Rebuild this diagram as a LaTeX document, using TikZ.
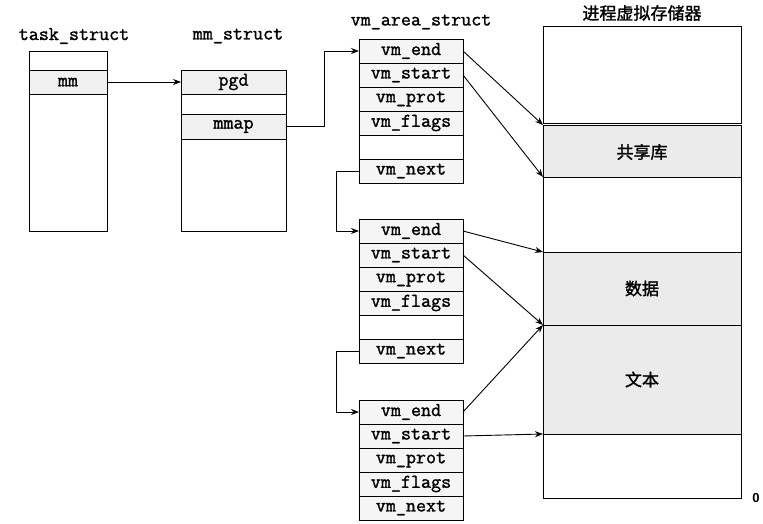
\documentclass[tikz,border=0pt]{standalone}
\usepackage{fontspec}
\setmonofont[FakeBold=1.4]{Latin Modern Mono}
\setsansfont{Liberation Sans}
\newfontfamily\cjk[FakeBold=1.5]{Noto Sans CJK SC}
\usetikzlibrary{arrows.meta}
\begin{document}
\begin{tikzpicture}[x=1pt,y=-1pt,
  font=\ttfamily\fontsize{19.5}{20}\selectfont,
  row/.style={draw=black,line width=0.8pt,inner sep=0pt,outer sep=0pt,anchor=center},
  vrow/.style={row,fill=gray!8,minimum width=104pt,minimum height=24pt},
  vempty/.style={row,fill=white,minimum width=104pt,minimum height=24pt},
  seg/.style={row,fill=white,minimum width=198pt},
  gseg/.style={row,fill=gray!16,minimum width=198pt},
  ttl/.style={inner sep=0pt},
  cjkf/.style={font=\cjk\fontsize{17}{19}\selectfont},
  arr/.style={line width=0.9pt,-{Stealth[length=8pt,width=6pt]}},
  ln/.style={line width=0.9pt}]
\useasboundingbox (0,0) rectangle (763,523);

% task_struct
\node[ttl] (tt) at (74,36) {task\_struct};
\node[row,fill=white,minimum width=78pt,minimum height=19pt] (t1) at (68,60.5) {};
\node[row,fill=gray!12,minimum width=78pt,minimum height=24pt] (mm) at (68,82) {mm};
\node[row,fill=white,minimum width=78pt,minimum height=137pt] (t3) at (68,162.5) {};

% mm_struct
\node[ttl] (mt) at (238,36) {mm\_struct};
\node[row,fill=gray!12,minimum width=105pt,minimum height=24pt] (pgd) at (233.5,82) {pgd};
\node[row,fill=white,minimum width=105pt,minimum height=20pt] (m2e) at (233.5,104) {};
\node[row,fill=gray!12,minimum width=105pt,minimum height=25pt] (mmap) at (233.5,126.5) {mmap};
\node[row,fill=white,minimum width=105pt,minimum height=92pt] (m4e) at (233.5,185) {};

% vm_area_struct 1
\node[ttl] (vt) at (421,22) {vm\_area\_struct};
\node[vrow] (a1end) at (411,51) {vm\_end};
\node[vrow] (a1start) at (411,75) {vm\_start};
\node[vrow] (a1prot) at (411,99) {vm\_prot};
\node[vrow] (a1flags) at (411,123) {vm\_flags};
\node[vempty] (a1e) at (411,147) {};
\node[vrow] (a1next) at (411,171) {vm\_next};

% vm_area_struct 2
\node[vrow] (a2end) at (411,231) {vm\_end};
\node[vrow] (a2start) at (411,255) {vm\_start};
\node[vrow] (a2prot) at (411,279) {vm\_prot};
\node[vrow] (a2flags) at (411,303) {vm\_flags};
\node[vempty] (a2e) at (411,327) {};
\node[vrow] (a2next) at (411,351) {vm\_next};

% vm_area_struct 3
\node[vrow] (a3end) at (411,412) {vm\_end};
\node[vrow] (a3start) at (411,436) {vm\_start};
\node[vrow] (a3prot) at (411,460) {vm\_prot};
\node[vrow] (a3flags) at (411,484) {vm\_flags};
\node[vrow] (a3next) at (411,508) {vm\_next};

% process virtual memory
\node[ttl,cjkf] (pt) at (642,13) {进程虚拟存储器};
\node[seg,minimum height=97pt] (s1) at (642,74.5) {};
\node[gseg,minimum height=54pt,cjkf] (s2) at (642,152) {共享库};
\node[seg,minimum height=75pt] (s3) at (642,214.5) {};
\node[gseg,minimum height=73pt,cjkf] (s4) at (642,288.5) {数据};
\node[gseg,minimum height=109pt,cjkf] (s5) at (642,379.5) {文本};
\node[seg,minimum height=64pt] (s6) at (642,466) {};
\node[ttl,font=\sffamily\bfseries\fontsize{13}{15}\selectfont] (zero) at (756,498) {0};

% connectors
\draw[arr] (mm.east) -- (pgd.west);
\draw[arr] (mmap.east) -- ++(38,0) |- (a1end.west);
\draw[arr] (a1next.west) -- ++(-23,0) |- (a2end.west);
\draw[arr] (a2next.west) -- ++(-23,0) |- (a3end.west);

\draw[arr] (a1end.east) -- (s2.north west);
\draw[arr] (a1start.east) -- (s3.north west);
\draw[arr] (a2end.east) -- (s4.north west);
\draw[arr] (a2start.east) -- (s5.north west);
\draw[arr] (a3end.east) -- (s5.north west);
\draw[arr] (a3start.east) -- (s6.north west);
\end{tikzpicture}
\end{document}
